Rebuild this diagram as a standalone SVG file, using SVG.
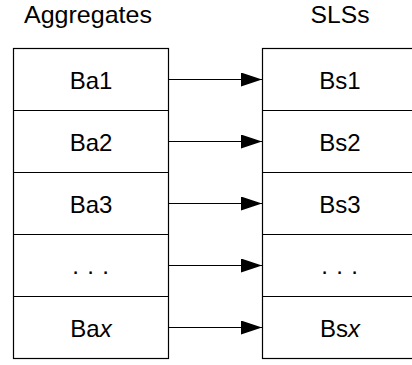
<svg xmlns="http://www.w3.org/2000/svg" width="412" height="365" viewBox="0 0 412 365">
<defs>
<style>
.t{font-family:"Liberation Sans",Arial,sans-serif;font-size:24px;fill:#000;text-anchor:middle}
.box{fill:#fff;stroke:#000;stroke-width:1.2}
.ln{stroke:#000;stroke-width:1.2;fill:none}
</style>
<marker id="ah" markerWidth="22" markerHeight="14" refX="21" refY="7" orient="auto" markerUnits="userSpaceOnUse">
<polygon points="0,0 21,7 0,14" fill="#000"/>
</marker>
</defs>
<rect width="412" height="365" fill="#fff"/>
<text class="t" x="88" y="23" textLength="128" lengthAdjust="spacingAndGlyphs" id="title-agg">Aggregates</text>
<text class="t" x="340" y="23" textLength="59" lengthAdjust="spacingAndGlyphs" id="title-sls">SLSs</text>
<g id="aggregates">
<rect class="box" x="13.5" y="48.5" width="155" height="310"/>
<line class="ln" x1="13.5" y1="110.5" x2="168.5" y2="110.5"/>
<line class="ln" x1="13.5" y1="172.5" x2="168.5" y2="172.5"/>
<line class="ln" x1="13.5" y1="234.5" x2="168.5" y2="234.5"/>
<line class="ln" x1="13.5" y1="296.5" x2="168.5" y2="296.5"/>
</g>
<g id="ba1"><text class="t" x="91" y="89">Ba1</text></g>
<g id="ba2"><text class="t" x="91" y="151">Ba2</text></g>
<g id="ba3"><text class="t" x="91" y="213">Ba3</text></g>
<g id="ba-dots"><text class="t" x="91" y="274" style="letter-spacing:0.8px">. . .</text></g>
<g id="bax"><text class="t" x="91" y="337">Ba<tspan font-style="italic">x</tspan></text></g>
<g id="sls">
<rect class="box" x="262.5" y="48.5" width="155" height="310"/>
<line class="ln" x1="262.5" y1="110.5" x2="417" y2="110.5"/>
<line class="ln" x1="262.5" y1="172.5" x2="417" y2="172.5"/>
<line class="ln" x1="262.5" y1="234.5" x2="417" y2="234.5"/>
<line class="ln" x1="262.5" y1="296.5" x2="417" y2="296.5"/>
</g>
<g id="bs1"><text class="t" x="340" y="89">Bs1</text></g>
<g id="bs2"><text class="t" x="340" y="151">Bs2</text></g>
<g id="bs3"><text class="t" x="340" y="213">Bs3</text></g>
<g id="bs-dots"><text class="t" x="340" y="274" style="letter-spacing:0.8px">. . .</text></g>
<g id="bsx"><text class="t" x="340" y="337">Bs<tspan font-style="italic">x</tspan></text></g>
<g id="connectors">
<line class="ln" x1="168.5" y1="79.5" x2="262" y2="79.5" marker-end="url(#ah)"/>
<line class="ln" x1="168.5" y1="141.5" x2="262" y2="141.5" marker-end="url(#ah)"/>
<line class="ln" x1="168.5" y1="203.5" x2="262" y2="203.5" marker-end="url(#ah)"/>
<line class="ln" x1="168.5" y1="265.5" x2="262" y2="265.5" marker-end="url(#ah)"/>
<line class="ln" x1="168.5" y1="327.5" x2="262" y2="327.5" marker-end="url(#ah)"/>
</g>
</svg>
